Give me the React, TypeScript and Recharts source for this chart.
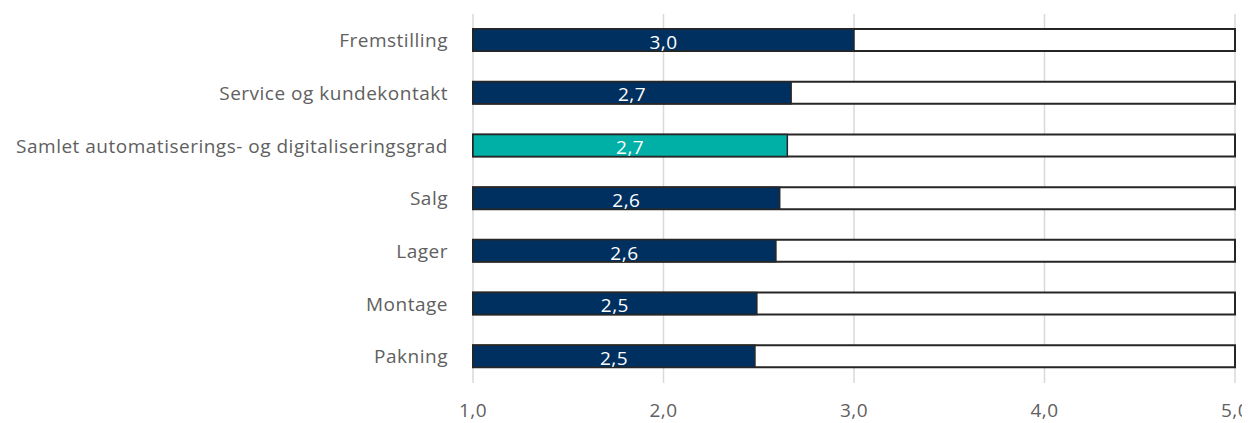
import React from "react";
import { BarChart, Bar, XAxis, YAxis, CartesianGrid, LabelList, Cell } from "recharts";

const categories = [
  "Fremstilling",
  "Service og kundekontakt",
  "Samlet automatiserings- og digitaliseringsgrad",
  "Salg",
  "Lager",
  "Montage",
  "Pakning",
];
const values = [3.0, 2.67, 2.65, 2.61, 2.59, 2.49, 2.48];
const xTicks = [1, 2, 3, 4, 5];
const highlightCategory = "Samlet automatiserings- og digitaliseringsgrad";

const data = categories.map((name, i) => ({ name, value: values[i] }));

const NAVY = "#003060";
const TEAL = "#00AFA6";
const FONT = "'Open Sans', 'Noto Sans', sans-serif";
const fmt = (v: number) => (Math.round(v * 10 + 1e-9) / 10).toFixed(1).replace(".", ",");

const textStyle = { fontSize: 19, fontFamily: FONT, letterSpacing: 0.5 };

export default function App() {
  return (
    <div style={{ width: 1242, height: 415, fontFamily: FONT }}>
      <BarChart
        width={1242}
        height={415}
        data={data}
        layout="vertical"
        margin={{ top: 6, right: 15, bottom: 0, left: 0 }}
      >
        <CartesianGrid horizontal={false} vertical stroke="#d9d9d9" strokeWidth={1.5} />
        <XAxis
          type="number"
          domain={[1, 5]}
          ticks={xTicks}
          axisLine={false}
          tickLine={false}
          tickMargin={15}
          height={40}
          tickFormatter={fmt}
          tick={{ fill: "#606060", ...textStyle }}
        />
        <YAxis
          type="category"
          dataKey="name"
          width={465}
          axisLine={false}
          tickLine={false}
          tickMargin={19}
          interval={0}
          tick={{ fill: "#606060", ...textStyle }}
        />
        <Bar
          dataKey="value"
          barSize={22}
          stroke="#262626"
          strokeWidth={1.5}
          isAnimationActive={false}
          background={{ fill: "#ffffff", stroke: "#262626", strokeWidth: 2 }}
        >
          {data.map((d) => (
            <Cell key={d.name} fill={d.name === highlightCategory ? TEAL : NAVY} />
          ))}
          <LabelList
            dataKey="value"
            position="center"
            formatter={(v: any) => fmt(Number(v))}
            fill="#ffffff"
            {...textStyle}
            dy={2}
          />
        </Bar>
      </BarChart>
    </div>
  );
}
